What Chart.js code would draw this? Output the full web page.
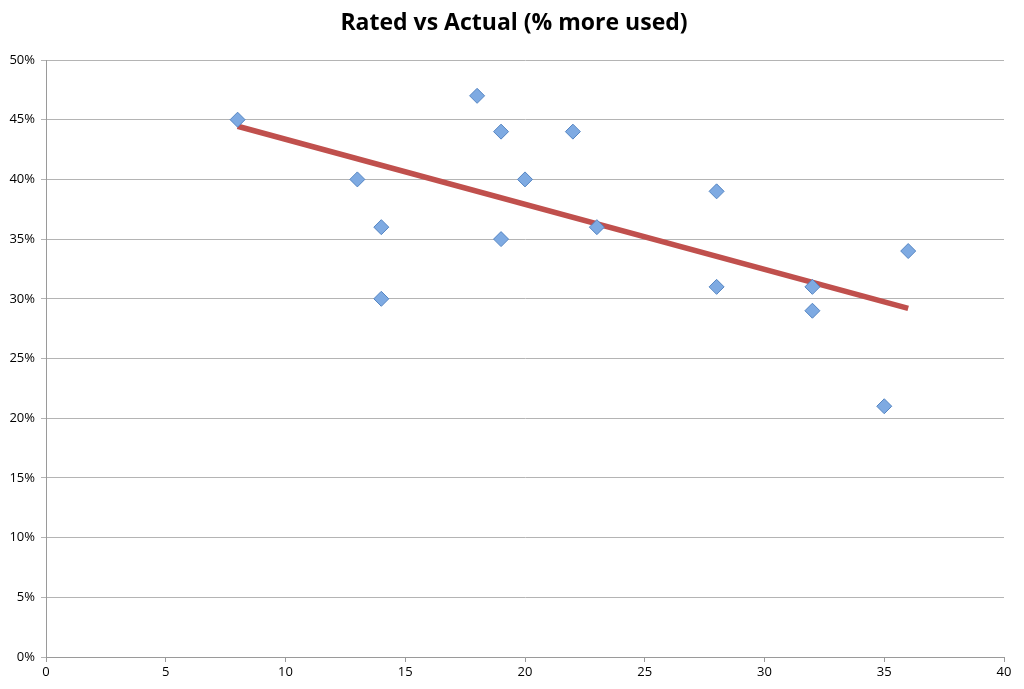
<!DOCTYPE html>
<html>
<head>
<meta charset="utf-8">
<script src="https://cdn.jsdelivr.net/npm/chart.js@4/dist/chart.umd.min.js"></script>
<style>
html,body{margin:0;padding:0;background:#fff;}
#wrap{width:1024px;height:689px;}
</style>
</head>
<body>
<div id="wrap"><canvas id="c" width="1024" height="689"></canvas></div>
<script>
const ratedX = [8, 13, 14, 14, 18, 19, 19, 20, 22, 23, 28, 28, 32, 32, 35, 36];
const actualY = [45, 40, 36, 30, 47, 44, 35, 40, 44, 36, 39, 31, 31, 29, 21, 34];
const trendX = [8, 36];
const trendY = [44.45, 29.2];
const xTicks = [0, 5, 10, 15, 20, 25, 30, 35, 40];
const yTicks = [0, 5, 10, 15, 20, 25, 30, 35, 40, 45, 50];
const titleText = 'Rated vs Actual (% more used)';

const points = ratedX.map((x, i) => ({x: x, y: actualY[i]}));
const trend = trendX.map((x, i) => ({x: x, y: trendY[i]}));

const titlePlugin = {
  id: 'centerTitle',
  afterDraw(chart) {
    const c = chart.ctx;
    c.save();
    c.fillStyle = '#000';
    c.font = 'bold 23px "Open Sans", Lato, sans-serif';
    c.textAlign = 'center';
    c.textBaseline = 'middle';
    c.fillText(titleText, 514, 23);
    c.restore();
  }
};

const ctx = document.getElementById('c').getContext('2d');
new Chart(ctx, {
  type: 'scatter',
  plugins: [titlePlugin],
  data: {
    datasets: [
      {
        label: 'Trend',
        type: 'line',
        data: trend,
        borderColor: '#c0504d',
        borderWidth: 5.5,
        pointRadius: 0,
        fill: false,
        order: 2
      },
      {
        label: 'Actual',
        data: points,
        pointStyle: 'rectRot',
        pointRadius: 7.5,
        pointHoverRadius: 7.5,
        backgroundColor: '#7eaae2',
        borderColor: '#5585c2',
        borderWidth: 1,
        order: 1
      }
    ]
  },
  options: {
    responsive: false,
    animation: false,
    events: [],
    layout: {padding: {left: 0, right: 20, top: 60, bottom: 0}},
    plugins: {
      legend: {display: false},
      tooltip: {enabled: false},
      title: {display: false}
    },
    scales: {
      x: {
        type: 'linear',
        min: 0, max: 40,
        afterBuildTicks: s => { s.ticks = xTicks.map(v => ({value: v})); },
        afterFit: s => { s.height = 32; },
        ticks: {color: '#000', font: {family: '"Open Sans", sans-serif', size: 13}, padding: 2, maxRotation: 0},
        grid: {drawOnChartArea: false, drawTicks: true, tickLength: 5, color: '#9a9a9a'},
        border: {display: true, color: '#9a9a9a', width: 1}
      },
      y: {
        type: 'linear',
        min: 0, max: 50,
        afterBuildTicks: s => { s.ticks = yTicks.map(v => ({value: v})); },
        afterFit: s => { s.width = 46; },
        ticks: {color: '#000', font: {family: '"Open Sans", sans-serif', size: 13}, padding: 6,
          callback: v => v + '%'},
        grid: {color: '#b4b4b4', lineWidth: 1, tickLength: 5},
        border: {display: true, color: '#9a9a9a', width: 1}
      }
    }
  }
});
</script>
</body>
</html>
